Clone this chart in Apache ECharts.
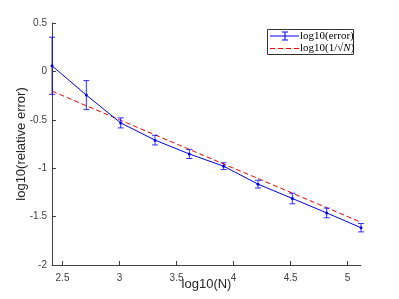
<!DOCTYPE html>
<html><head><meta charset="utf-8">
<script src="https://cdn.jsdelivr.net/npm/echarts@6/dist/echarts.min.js"></script>
<style>html,body{margin:0;padding:0;background:#fff}#c{width:399px;height:299px}</style>
</head><body><div id="c"></div>
<script>
const logN = [2.408, 2.709, 3.010, 3.311, 3.612, 3.913, 4.214, 4.515, 4.816, 5.117];
const logErr = [0.058, -0.245, -0.532, -0.710, -0.853, -0.979, -1.165, -1.313, -1.462, -1.615];
const errBar = [0.295, 0.150, 0.052, 0.050, 0.047, 0.035, 0.040, 0.055, 0.050, 0.043];
const logRef = [-0.204, -0.355, -0.505, -0.656, -0.806, -0.957, -1.107, -1.258, -1.408, -1.559];
const xTicks = [2.5, 3, 3.5, 4, 4.5, 5];
const seriesNames = ['log10(error)', 'log10(1/√N)'];

const axisColor = '#404040';
const blue = '#0000ff';
const red = '#ff0000';

const chart = echarts.init(document.getElementById('c'), null, {renderer: 'canvas'});
chart.setOption({
  animation: false,
  backgroundColor: '#fff',
  grid: {left: 52, right: 38, top: 23, bottom: 34},
  xAxis: {
    type: 'value', min: 2.408, max: 5.117,
    name: 'log10(N)', nameLocation: 'middle', nameGap: 13, nameMoveOverlap: false,
    nameTextStyle: {fontFamily: 'Liberation Sans', fontSize: 13, color: '#262626'},
    axisLine: {show: true, onZero: false, lineStyle: {color: axisColor, width: 1}},
    axisTick: {show: true, inside: true, length: 4, customValues: xTicks, lineStyle: {color: axisColor}},
    axisLabel: {customValues: xTicks, margin: 8, fontFamily: 'Liberation Sans', fontSize: 10, color: axisColor},
    splitLine: {show: false}
  },
  yAxis: {
    type: 'value', min: -2, max: 0.5, interval: 0.5,
    name: 'log10(relative error)', nameLocation: 'middle', nameGap: 24, nameMoveOverlap: false,
    nameTextStyle: {fontFamily: 'Liberation Sans', fontSize: 13, color: '#262626'},
    axisLine: {show: true, onZero: false, lineStyle: {color: axisColor, width: 1}},
    axisTick: {show: true, inside: true, length: 4, lineStyle: {color: axisColor}},
    axisLabel: {margin: 5, fontFamily: 'Liberation Sans', fontSize: 10, color: axisColor},
    splitLine: {show: false}
  },
  series: [
    {
      name: seriesNames[1], type: 'line',
      data: logN.map((x, i) => [x, logRef[i]]),
      symbol: 'none',
      lineStyle: {color: red, width: 1, type: [5, 3]},
      z: 2
    },
    {
      name: seriesNames[0], type: 'line',
      data: logN.map((x, i) => [x, logErr[i]]),
      symbol: 'circle', symbolSize: 3,
      itemStyle: {color: blue},
      lineStyle: {color: blue, width: 1},
      z: 3
    },
    {
      name: seriesNames[0] + ' bars', type: 'custom',
      data: logN.map((x, i) => [x, logErr[i], errBar[i]]),
      encode: {x: 0, y: 1},
      z: 4,
      renderItem: function (params, api) {
        const x = api.value(0), y = api.value(1), e = api.value(2);
        const t = api.coord([x, y + e]);
        const b = api.coord([x, y - e]);
        const hw = 3;
        const st = {stroke: 'rgba(0,0,255,0.8)', lineWidth: 1};
        return {type: 'group', children: [
          {type: 'line', shape: {x1: t[0], y1: t[1], x2: b[0], y2: b[1]}, style: st},
          {type: 'line', shape: {x1: t[0] - hw, y1: t[1], x2: t[0] + hw, y2: t[1]}, style: st},
          {type: 'line', shape: {x1: b[0] - hw, y1: b[1], x2: b[0] + hw, y2: b[1]}, style: st}
        ]};
      }
    }
  ],
  graphic: [
    {type: 'rect', shape: {x: 267.5, y: 29.5, width: 86, height: 25}, style: {fill: '#fff', stroke: '#333', lineWidth: 1}, z: 10},
    {type: 'line', shape: {x1: 270, y1: 36, x2: 299, y2: 36}, style: {stroke: blue, lineWidth: 1}, z: 11},
    {type: 'line', shape: {x1: 285, y1: 32, x2: 285, y2: 40}, style: {stroke: blue, lineWidth: 1}, z: 11},
    {type: 'line', shape: {x1: 282, y1: 32, x2: 288, y2: 32}, style: {stroke: blue, lineWidth: 1}, z: 11},
    {type: 'line', shape: {x1: 282, y1: 40, x2: 288, y2: 40}, style: {stroke: blue, lineWidth: 1}, z: 11},
    {type: 'line', shape: {x1: 270, y1: 48.5, x2: 299, y2: 48.5}, style: {stroke: red, lineWidth: 1, lineDash: [5, 3]}, z: 11},
    {type: 'text', x: 300, y: 36, style: {text: seriesNames[0], font: '11px "Liberation Serif"', fill: '#000', verticalAlign: 'middle'}, z: 11},
    {type: 'text', x: 300, y: 48.5, style: {
      text: 'log10(1/√{i|N})', font: '11px "Liberation Serif"', fill: '#000', verticalAlign: 'middle',
      rich: {i: {fontStyle: 'italic', fontFamily: 'Liberation Serif', fontSize: 11}}
    }, z: 11}
  ]
});
</script>
</body></html>
